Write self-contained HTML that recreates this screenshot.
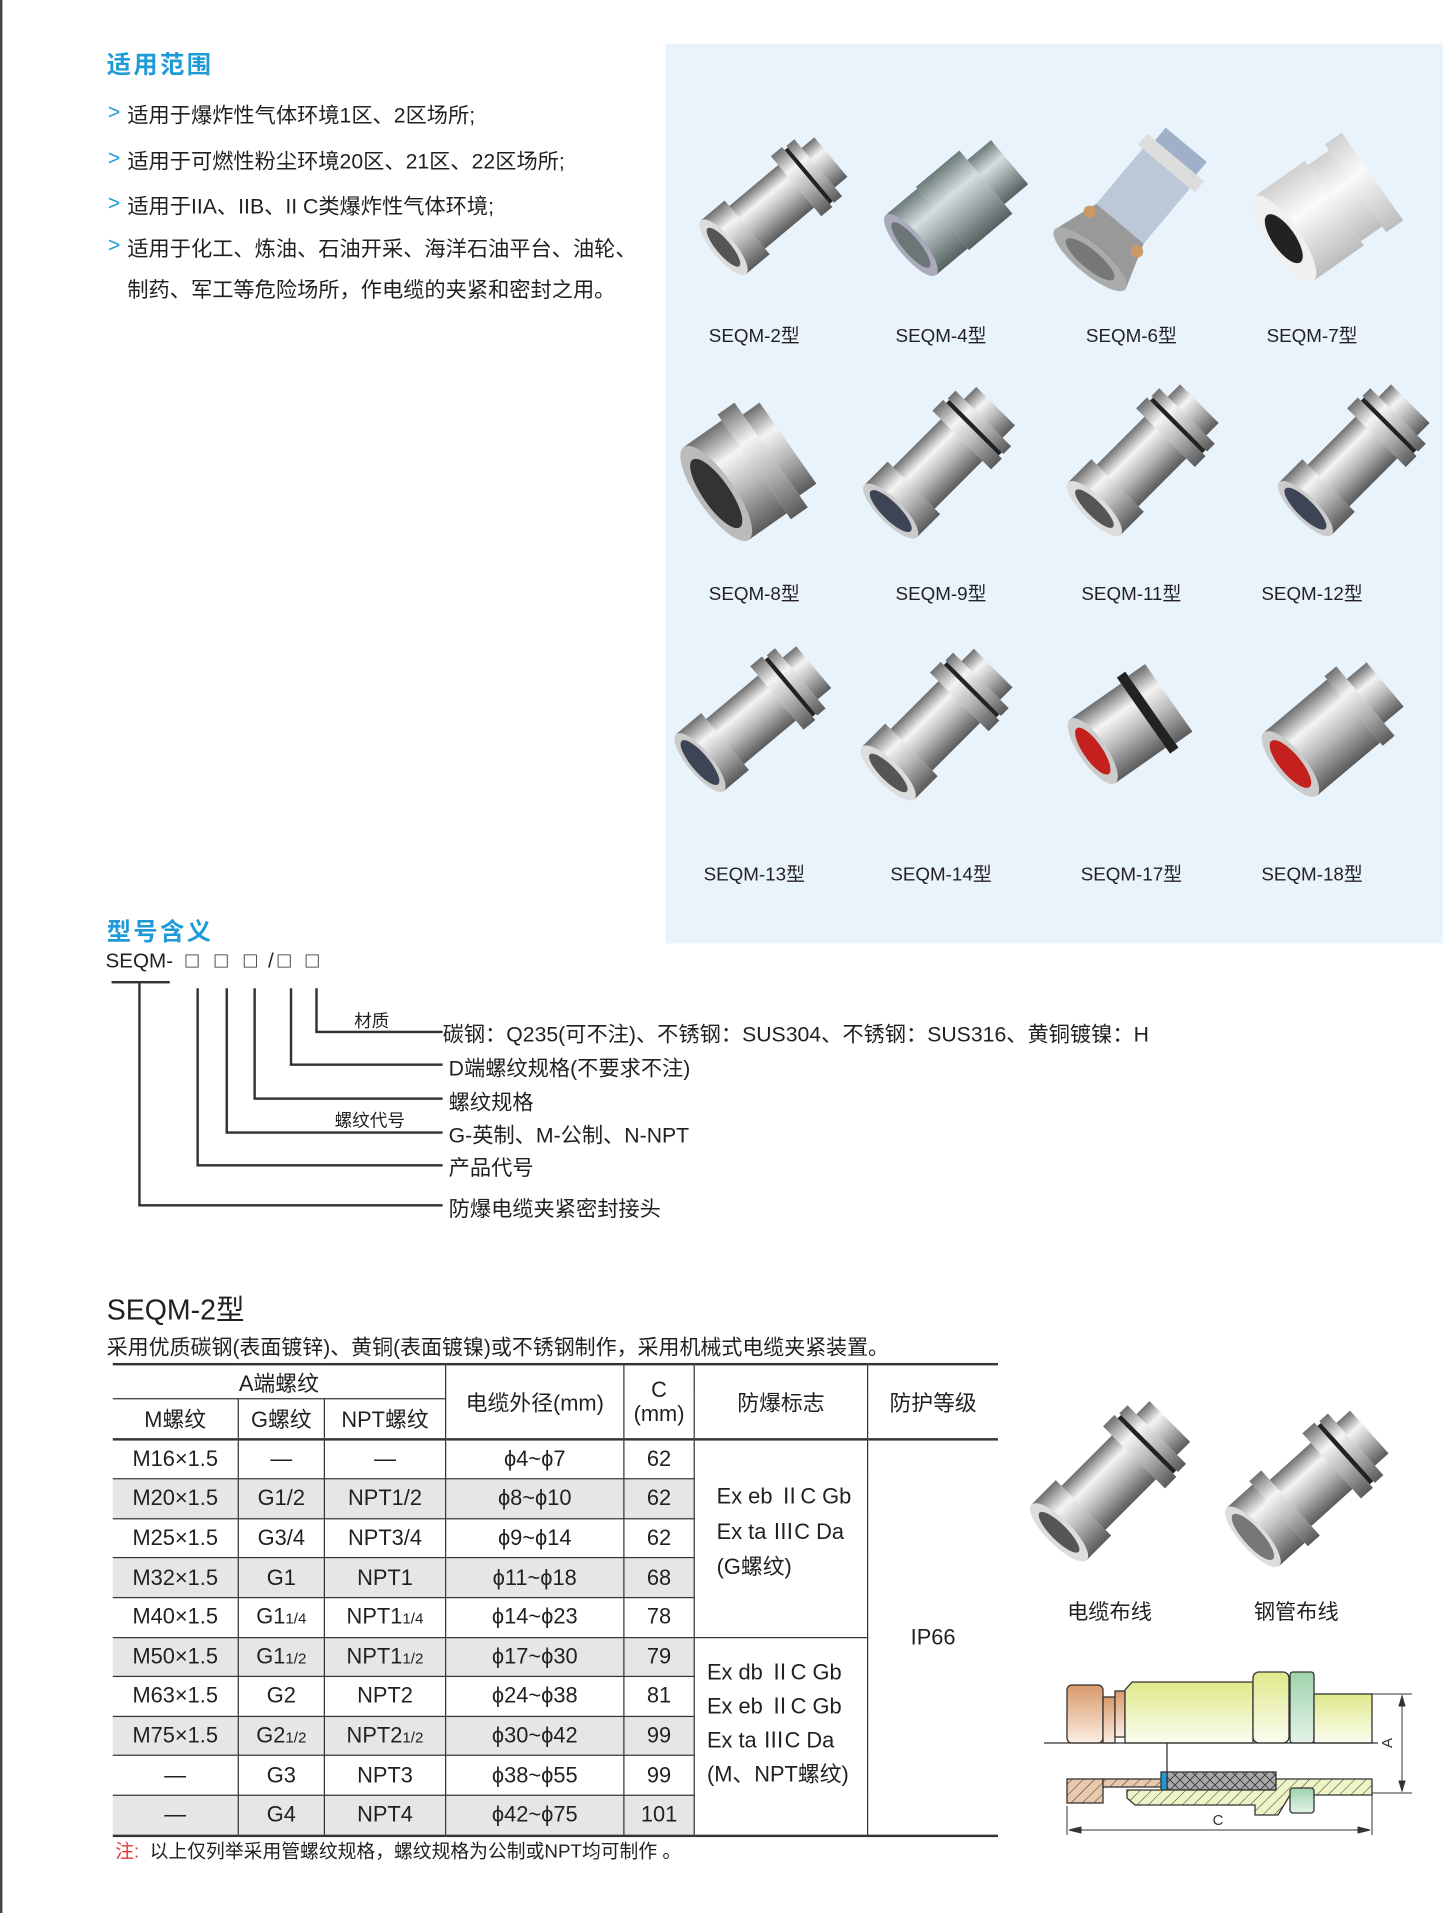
<!DOCTYPE html>
<html><head><meta charset="utf-8">
<style>
html,body{margin:0;padding:0;background:#fff;}
body{width:1443px;height:1913px;position:relative;overflow:hidden;}
#c{position:absolute;left:0;top:0;width:1190px;height:1578px;transform:scale(1.2126);transform-origin:0 0;font-family:"Liberation Sans","Noto Sans CJK SC",sans-serif;color:#231f20;}
.a{position:absolute;white-space:nowrap;}
.h{color:#1e9bd7;font-size:20px;font-weight:bold;letter-spacing:2px;}
.b{font-size:17.5px;}
.gt{color:#1e9bd7;font-size:17.5px;}
.lbl{font-size:15.5px;text-align:center;width:120px;}
.ln{position:absolute;background:#333;}
table{position:absolute;left:93px;top:1124px;border-collapse:collapse;font-size:18px;}
td{border:1px solid #333;text-align:center;padding:0;height:31.6px;}
tr.g td.s{background:#e6e6e6;}
.sm{font-size:12.5px;}
.bx{position:absolute;top:782px;font-size:18px;}
</style></head><body>
<div id="c">
<div style="position:absolute;left:0;top:0;width:2px;height:1578px;background:#444"></div>
<div class="a h" style="left:88px;top:37px">适用范围</div>
<div class="a gt" style="left:89px;top:82px">&gt;</div><div class="a b" style="left:105px;top:82px">适用于爆炸性气体环境1区、2区场所;</div>
<div class="a gt" style="left:89px;top:120px">&gt;</div><div class="a b" style="left:105px;top:120px">适用于可燃性粉尘环境20区、21区、22区场所;</div>
<div class="a gt" style="left:89px;top:157px">&gt;</div><div class="a b" style="left:105px;top:157px">适用于IIA、IIB、II C类爆炸性气体环境;</div>
<div class="a gt" style="left:89px;top:192px">&gt;</div><div class="a b" style="left:105px;top:192px">适用于化工、炼油、石油开采、海洋石油平台、油轮、</div>
<div class="a b" style="left:105px;top:226px">制药、军工等危险场所，作电缆的夹紧和密封之用。</div>

<div style="position:absolute;left:549px;top:36px;width:641px;height:742px;background:#e8f3fc"></div>
<svg style="position:absolute;left:549px;top:36px" width="641" height="742" viewBox="549 36 641 742">
<defs>
<linearGradient id="sv" x1="0" y1="0" x2="0" y2="1"><stop offset="0" stop-color="#6f6f6f"/><stop offset=".3" stop-color="#f4f4f4"/><stop offset=".6" stop-color="#b9b9b9"/><stop offset="1" stop-color="#5a5a5a"/></linearGradient>
<linearGradient id="gz" x1="0" y1="0" x2="0" y2="1"><stop offset="0" stop-color="#6c7a7a"/><stop offset=".35" stop-color="#d6dede"/><stop offset=".65" stop-color="#9aa6a6"/><stop offset="1" stop-color="#55605f"/></linearGradient>
<linearGradient id="wh" x1="0" y1="0" x2="0" y2="1"><stop offset="0" stop-color="#cfcfcf"/><stop offset=".4" stop-color="#fafafa"/><stop offset="1" stop-color="#bcbcbc"/></linearGradient>
<g id="p1">
<rect x="-62" y="-34" width="30" height="68" fill="url(#sv)"/>
<rect x="-32" y="-27" width="62" height="54" fill="url(#sv)"/>
<rect x="30" y="-38" width="14" height="76" fill="url(#sv)"/>
<rect x="44" y="-34" width="4" height="68" fill="#222"/>
<rect x="48" y="-36" width="10" height="72" fill="url(#sv)"/>
<rect x="58" y="-25" width="16" height="50" fill="url(#sv)"/>
<ellipse cx="-62" cy="0" rx="11" ry="34" fill="#ddd"/>
<ellipse cx="-62" cy="0" rx="7" ry="24" fill="#555"/>
</g>
<g id="p2">
<rect x="-62" y="-34" width="30" height="68" fill="url(#sv)"/>
<rect x="-32" y="-27" width="62" height="54" fill="url(#sv)"/>
<rect x="30" y="-38" width="14" height="76" fill="url(#sv)"/>
<rect x="44" y="-34" width="4" height="68" fill="#222"/>
<rect x="48" y="-36" width="10" height="72" fill="url(#sv)"/>
<rect x="58" y="-25" width="16" height="50" fill="url(#sv)"/>
<ellipse cx="-62" cy="0" rx="11" ry="34" fill="#ccc"/>
<ellipse cx="-62" cy="0" rx="8" ry="26" fill="#3d4455"/>
</g>
</defs>
<use href="#p1" transform="translate(637,170) rotate(-40) scale(.85)"/>
<g transform="translate(787,172) rotate(-40) scale(.85)"><rect x="-55" y="-38" width="40" height="76" fill="url(#gz)"/><rect x="-15" y="-40" width="55" height="80" fill="url(#gz)"/><rect x="40" y="-28" width="30" height="56" fill="url(#gz)"/><ellipse cx="-55" cy="0" rx="12" ry="38" fill="#aab"/><ellipse cx="-55" cy="0" rx="8" ry="28" fill="#6d7676"/></g>
<g transform="translate(940,165) rotate(-50) scale(.85)"><rect x="-30" y="-30" width="70" height="60" fill="#bcc7d8"/><rect x="40" y="-36" width="14" height="72" fill="#ddd"/><rect x="54" y="-26" width="16" height="52" fill="#9fb0c8"/><path d="M-30 -30 L-75 -45 L-75 45 L-30 30Z" fill="#999"/><ellipse cx="-75" cy="0" rx="14" ry="45" fill="#a9acaa"/><ellipse cx="-75" cy="0" rx="9" ry="30" fill="#777"/><circle cx="-40" cy="-30" r="6" fill="#c96"/><circle cx="-40" cy="30" r="6" fill="#c96"/></g>
<g transform="translate(1097,170) rotate(-35) scale(.85)"><rect x="-55" y="-50" width="60" height="100" fill="url(#wh)"/><rect x="5" y="-45" width="25" height="90" fill="url(#wh)"/><rect x="30" y="-52" width="20" height="104" fill="url(#wh)"/><ellipse cx="-55" cy="0" rx="16" ry="50" fill="#f0f0f0"/><ellipse cx="-55" cy="0" rx="11" ry="28" fill="#222"/></g>
<g transform="translate(622,385) rotate(-35) scale(.85)"><rect x="-45" y="-55" width="45" height="110" fill="url(#sv)"/><rect x="0" y="-62" width="20" height="124" fill="url(#sv)"/><rect x="20" y="-48" width="20" height="96" fill="url(#sv)"/><ellipse cx="-45" cy="0" rx="18" ry="55" fill="#bbb"/><ellipse cx="-45" cy="0" rx="13" ry="40" fill="#333"/></g>
<use href="#p2" transform="translate(774,382) rotate(-45) scale(.9)"/>
<g transform="translate(942,380) rotate(-45) scale(.9)"><use href="#p1"/></g>
<use href="#p2" transform="translate(1116,380) rotate(-45) scale(.9)"/>
<use href="#p2" transform="translate(620,593) rotate(-40) scale(.9)"/>
<use href="#p1" transform="translate(772,598) rotate(-45) scale(.9)"/>
<g transform="translate(936,595) rotate(-35) scale(.85)"><rect x="-50" y="-38" width="60" height="76" fill="url(#sv)"/><rect x="10" y="-45" width="10" height="90" fill="#222"/><rect x="20" y="-40" width="20" height="80" fill="url(#sv)"/><ellipse cx="-50" cy="0" rx="13" ry="38" fill="#ccc"/><ellipse cx="-50" cy="0" rx="9" ry="27" fill="#c4201d"/></g>
<g transform="translate(1100,600) rotate(-40) scale(.85)"><rect x="-55" y="-40" width="80" height="80" fill="url(#sv)"/><rect x="25" y="-44" width="15" height="88" fill="url(#sv)"/><rect x="40" y="-28" width="25" height="56" fill="url(#sv)"/><ellipse cx="-55" cy="0" rx="14" ry="40" fill="#ccc"/><ellipse cx="-55" cy="0" rx="10" ry="29" fill="#c4201d"/></g>
</svg>
<div class="a lbl" style="left:562px;top:265px">SEQM-2型</div>
<div class="a lbl" style="left:716px;top:265px">SEQM-4型</div>
<div class="a lbl" style="left:873px;top:265px">SEQM-6型</div>
<div class="a lbl" style="left:1022px;top:265px">SEQM-7型</div>
<div class="a lbl" style="left:562px;top:478px">SEQM-8型</div>
<div class="a lbl" style="left:716px;top:478px">SEQM-9型</div>
<div class="a lbl" style="left:873px;top:478px">SEQM-11型</div>
<div class="a lbl" style="left:1022px;top:478px">SEQM-12型</div>
<div class="a lbl" style="left:562px;top:709px">SEQM-13型</div>
<div class="a lbl" style="left:716px;top:709px">SEQM-14型</div>
<div class="a lbl" style="left:873px;top:709px">SEQM-17型</div>
<div class="a lbl" style="left:1022px;top:709px">SEQM-18型</div>

<div class="a h" style="left:88px;top:752px">型号含义</div>
<div class="a" style="left:87px;top:783px;font-size:17px">SEQM-</div>
<div class="bx" style="left:153px">□</div>
<div class="bx" style="left:177px">□</div>
<div class="bx" style="left:201px">□</div>
<div class="bx" style="left:221px;font-size:17px;top:783px">/</div>
<div class="bx" style="left:229px">□</div>
<div class="bx" style="left:252px">□</div>
<div class="ln" style="left:92px;top:809px;width:48px;height:1.5px"></div>
<div class="ln" style="left:114px;top:809px;width:1.5px;height:185px"></div>
<div class="ln" style="left:114px;top:993px;width:251px;height:1.5px"></div>
<div class="ln" style="left:162px;top:815px;width:1.5px;height:146px"></div>
<div class="ln" style="left:162px;top:960px;width:203px;height:1.5px"></div>
<div class="ln" style="left:186px;top:815px;width:1.5px;height:119px"></div>
<div class="ln" style="left:186px;top:933px;width:179px;height:1.5px"></div>
<div class="ln" style="left:209px;top:815px;width:1.5px;height:91px"></div>
<div class="ln" style="left:209px;top:905px;width:156px;height:1.5px"></div>
<div class="ln" style="left:239px;top:815px;width:1.5px;height:63px"></div>
<div class="ln" style="left:239px;top:877px;width:126px;height:1.5px"></div>
<div class="ln" style="left:260px;top:815px;width:1.5px;height:36px"></div>
<div class="ln" style="left:260px;top:850px;width:105px;height:1.5px"></div>
<div class="a" style="left:292px;top:831px;font-size:14.5px">材质</div>
<div class="a" style="left:276px;top:913px;font-size:14.5px">螺纹代号</div>
<div class="a" style="left:365px;top:840px;font-size:17.5px">碳钢：Q235(可不注)、不锈钢：SUS304、不锈钢：SUS316、黄铜镀镍：H</div>
<div class="a" style="left:370px;top:868px;font-size:17.5px">D端螺纹规格(不要求不注)</div>
<div class="a" style="left:370px;top:896px;font-size:17.5px">螺纹规格</div>
<div class="a" style="left:370px;top:923px;font-size:17.5px">G-英制、M-公制、N-NPT</div>
<div class="a" style="left:370px;top:950px;font-size:17.5px">产品代号</div>
<div class="a" style="left:370px;top:984px;font-size:17.5px">防爆电缆夹紧密封接头</div>

<div class="a" style="left:88px;top:1061px;font-size:23.5px">SEQM-2型</div>
<div class="a" style="left:88px;top:1097px;font-size:17.3px">采用优质碳钢(表面镀锌)、黄铜(表面镀镍)或不锈钢制作，采用机械式电缆夹紧装置。</div>

<table>
<tr><td colspan="3" style="height:27px;border-left:none;border-top:2px solid #333">A端螺纹</td><td rowspan="2" style="width:146px;border-top:2px solid #333">电缆外径(mm)</td><td rowspan="2" style="width:57px;border-top:2px solid #333;line-height:20px">C<br>(mm)</td><td rowspan="2" style="width:142px;border-top:2px solid #333">防爆标志</td><td rowspan="2" style="width:107px;border-right:none;border-top:2px solid #333">防护等级</td></tr>
<tr><td style="width:103px;height:27px;border-left:none">M螺纹</td><td style="width:70px">G螺纹</td><td style="width:99px">NPT螺纹</td></tr>
<tr style="border-top:2px solid #333"><td class="s" style="border-left:none;border-top:2px solid #333">M16×1.5</td><td class="s" style="border-top:2px solid #333">—</td><td class="s" style="border-top:2px solid #333">—</td><td class="s" style="border-top:2px solid #333">ϕ4~ϕ7</td><td class="s" style="border-top:2px solid #333">62</td><td rowspan="5" style="border-top:2px solid #333;text-align:left;padding-left:18px;line-height:29px;vertical-align:top;padding-top:32px">Ex eb ⅡC Gb<br>Ex ta ⅢC Da<br>(G螺纹)</td><td rowspan="10" style="border-right:none;border-top:2px solid #333;border-bottom:2px solid #333">IP66</td></tr>
<tr class="g"><td class="s" style="border-left:none">M20×1.5</td><td class="s">G1/2</td><td class="s">NPT1/2</td><td class="s">ϕ8~ϕ10</td><td class="s">62</td></tr>
<tr><td class="s" style="border-left:none">M25×1.5</td><td class="s">G3/4</td><td class="s">NPT3/4</td><td class="s">ϕ9~ϕ14</td><td class="s">62</td></tr>
<tr class="g"><td class="s" style="border-left:none">M32×1.5</td><td class="s">G1</td><td class="s">NPT1</td><td class="s">ϕ11~ϕ18</td><td class="s">68</td></tr>
<tr><td class="s" style="border-left:none">M40×1.5</td><td class="s">G1<span class="sm">1/4</span></td><td class="s">NPT1<span class="sm">1/4</span></td><td class="s">ϕ14~ϕ23</td><td class="s">78</td></tr>
<tr class="g"><td class="s" style="border-left:none">M50×1.5</td><td class="s">G1<span class="sm">1/2</span></td><td class="s">NPT1<span class="sm">1/2</span></td><td class="s">ϕ17~ϕ30</td><td class="s">79</td><td rowspan="5" style="border-bottom:2px solid #333;text-align:left;padding-left:10px;line-height:28px;vertical-align:top;padding-top:14px">Ex db ⅡC Gb<br>Ex eb ⅡC Gb<br>Ex ta ⅢC Da<br>(M、NPT螺纹)</td></tr>
<tr><td class="s" style="border-left:none">M63×1.5</td><td class="s">G2</td><td class="s">NPT2</td><td class="s">ϕ24~ϕ38</td><td class="s">81</td></tr>
<tr class="g"><td class="s" style="border-left:none">M75×1.5</td><td class="s">G2<span class="sm">1/2</span></td><td class="s">NPT2<span class="sm">1/2</span></td><td class="s">ϕ30~ϕ42</td><td class="s">99</td></tr>
<tr><td class="s" style="border-left:none">—</td><td class="s">G3</td><td class="s">NPT3</td><td class="s">ϕ38~ϕ55</td><td class="s">99</td></tr>
<tr class="g"><td class="s" style="border-left:none;border-bottom:2px solid #333">—</td><td class="s" style="border-bottom:2px solid #333">G4</td><td class="s" style="border-bottom:2px solid #333">NPT4</td><td class="s" style="border-bottom:2px solid #333">ϕ42~ϕ75</td><td class="s" style="border-bottom:2px solid #333">101</td></tr>
</table>
<div class="a" style="left:95px;top:1515px;font-size:15.5px"><span style="color:#e23a3a">注:</span>&nbsp; 以上仅列举采用管螺纹规格，螺纹规格为公制或NPT均可制作 。</div>

<svg style="position:absolute;left:830px;top:1130px" width="350" height="190" viewBox="830 1130 350 190">
<use href="#p1" transform="translate(915,1222) rotate(-45) scale(.95)"/>
<g transform="translate(1077,1228) rotate(-42) scale(.95)"><rect x="-62" y="-34" width="30" height="68" fill="url(#sv)"/><rect x="-32" y="-38" width="14" height="76" fill="url(#sv)"/><rect x="-18" y="-27" width="48" height="54" fill="url(#sv)"/><rect x="30" y="-38" width="14" height="76" fill="url(#sv)"/><rect x="44" y="-34" width="4" height="68" fill="#222"/><rect x="48" y="-36" width="10" height="72" fill="url(#sv)"/><rect x="58" y="-25" width="16" height="50" fill="url(#sv)"/><ellipse cx="-62" cy="0" rx="11" ry="34" fill="#ddd"/><ellipse cx="-62" cy="0" rx="8" ry="26" fill="#777"/></g>
</svg>
<div class="a" style="left:880px;top:1316px;font-size:17.5px">电缆布线</div>
<div class="a" style="left:1034px;top:1316px;font-size:17.5px">钢管布线</div>
</div>

<svg style="position:absolute;left:0;top:0" width="1443" height="1913" viewBox="0 0 1443 1913">
<defs>
<linearGradient id="br" x1="0" y1="0" x2="0" y2="1"><stop offset="0" stop-color="#d9996a"/><stop offset="1" stop-color="#fbeee3"/></linearGradient>
<linearGradient id="yg" x1="0" y1="0" x2="0" y2="1"><stop offset="0" stop-color="#dfe98a"/><stop offset="1" stop-color="#fafdf0"/></linearGradient>
<linearGradient id="gn" x1="0" y1="0" x2="0" y2="1"><stop offset="0" stop-color="#9fd3ad"/><stop offset="1" stop-color="#e4f3e8"/></linearGradient>
<pattern id="ht" width="8" height="8" patternUnits="userSpaceOnUse" patternTransform="rotate(45)"><rect width="8" height="8" fill="#eef4c6"/><line x1="0" y1="0" x2="0" y2="8" stroke="#333" stroke-width="1"/></pattern>
<pattern id="hb" width="8" height="8" patternUnits="userSpaceOnUse" patternTransform="rotate(45)"><rect width="8" height="8" fill="#e9c8ad"/><line x1="0" y1="0" x2="0" y2="8" stroke="#333" stroke-width="1"/></pattern>
<pattern id="xx" width="10" height="10" patternUnits="userSpaceOnUse"><rect width="10" height="10" fill="#a7a9ab"/><path d="M0 0L10 10M10 0L0 10" stroke="#333" stroke-width=".8"/></pattern>
</defs>
<g stroke="#333" stroke-width="1.3">
<rect x="1067" y="1685" width="36" height="58" rx="5" fill="url(#br)"/>
<rect x="1103" y="1697" width="12" height="46" fill="url(#br)"/>
<rect x="1115" y="1691" width="10" height="46" fill="url(#br)"/>
<path d="M1125 1743 L1125 1690 L1132 1682 L1253 1682 L1253 1743Z" fill="url(#yg)"/>
<rect x="1253" y="1672" width="36" height="71" rx="6" fill="url(#yg)"/>
<rect x="1290" y="1672" width="24" height="71" rx="3" fill="url(#gn)"/>
<rect x="1314" y="1694" width="58" height="49" fill="url(#yg)"/>
<line x1="1044" y1="1743" x2="1378" y2="1743"/>
<rect x="1067" y="1779" width="36" height="24" fill="url(#hb)"/>
<rect x="1103" y="1779" width="60" height="8" fill="url(#hb)"/>
<rect x="1167" y="1772" width="109" height="18" fill="url(#xx)"/>
<rect x="1161" y="1772" width="6" height="18" fill="#1e9bd7"/>
<path d="M1127 1790 L1276 1790 L1276 1779 L1372 1779 L1372 1795 L1314 1795 L1290 1795 L1278 1815 L1255 1815 L1255 1805 L1135 1805 L1127 1798Z" fill="url(#ht)"/>
<rect x="1290" y="1788" width="24" height="25" rx="3" fill="url(#gn)"/>
<line x1="1167" y1="1743" x2="1167" y2="1772"/>
</g>
<g stroke="#333" stroke-width="1">
<line x1="1372" y1="1694" x2="1412" y2="1694"/><line x1="1372" y1="1793" x2="1412" y2="1793"/>
<line x1="1402" y1="1696" x2="1402" y2="1791"/>
<path d="M1402 1696l-3 10h6zM1402 1791l-3-10h6z" fill="#333"/>
<line x1="1067" y1="1806" x2="1067" y2="1835"/><line x1="1372" y1="1795" x2="1372" y2="1835"/>
<line x1="1069" y1="1830" x2="1370" y2="1830"/>
<path d="M1069 1830l12-3v6zM1370 1830l-12-3v6z" fill="#333"/>
</g>
<text x="1392" y="1743" font-family="Liberation Sans" font-size="15" fill="#333" transform="rotate(-90 1392 1743)" text-anchor="middle">A</text>
<text x="1218" y="1825" font-family="Liberation Sans" font-size="15" fill="#333" text-anchor="middle">C</text>
</svg>
</body></html>
